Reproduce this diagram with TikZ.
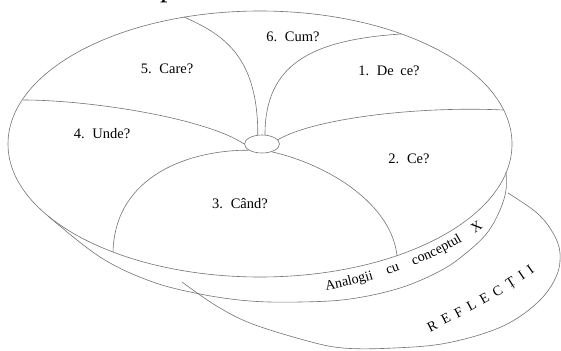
\documentclass[tikz,border=0pt]{standalone}
\usepackage{fontspec}
\setmainfont{Liberation Serif}[WordSpace=1.8]
\usetikzlibrary{shapes.geometric,decorations.text}
\tikzset{
    disk line/.style={line width=.6pt, black!55},
    sector line/.style={line width=.6pt, black!55},
    hub/.style={
        draw=black!55,
        line width=.6pt,
        ellipse,
        fill=white,
        inner sep=0pt,
        minimum width=35pt,
        minimum height=18pt
    },
    question/.style={font=\fontsize{14.5}{17}\selectfont, inner sep=0pt},
    title cut/.style={font=\fontsize{30}{30}\selectfont, inner sep=0pt, anchor=base west}
}
\newcommand{\bandfont}{\fontsize{14}{16}\selectfont}

\begin{document}
\begin{tikzpicture}[x=1pt,y=-1pt]
    \useasboundingbox (0,0) rectangle (561,350);
    \node[title cut] (title) at (160,-3) {p};
    \draw[disk line] plot[smooth,tension=.6] coordinates {(182,282) (215,305)
        (250,323) (304,340) (343,348) (394,348) (447,343) (501,327) (537,303)
        (556,277) (560,253) (553,233) (537,213) (508,193)};
    \draw[disk line] plot[smooth,tension=.6] coordinates {(48,216) (100,257)
        (150,281) (200,294) (250,301) (300,302) (350,299) (400,288) (440,271)
        (465,254) (487,233) (500,210) (506,190) (506,172)};
    \draw[disk line] (260,144) ellipse [x radius=252pt, y radius=133pt];
    \node[hub] (hub) at (262,144) {};
    \draw[sector line] (hub.115) .. controls (258,55) and (222,34) .. (184,17);
    \draw[sector line] (hub.72) .. controls (265,65) and (310,40) .. (401,34);
    \draw[sector line] (hub.15) .. controls (315,118) and (420,106) .. (503,110);
    \draw[sector line] (hub.-39) .. controls (330,165) and (392,205) .. (397,256);
    \draw[sector line] (hub.-155) .. controls (190,150) and (115,175) .. (113,252);
    \draw[sector line] (hub.180) .. controls (205,118) and (90,100) .. (23,100);
    \node[question] (q1) at (389,71) {1. De ce?};
    \node[question] (q2) at (409,159) {2. Ce?};
    \node[question] (q3) at (240,204) {3. Când?};
    \node[question] (q4) at (102,134) {4. Unde?};
    \node[question] (q5) at (167,69) {5. Care?};
    \node[question] (q6) at (293,37) {6. Cum?};
    \path[decorate, decoration={text along path,
        text={|\bandfont|Analogii cu conceptul X},
        text align={fit to path stretching spaces}}]
        (326,290) .. controls (380,281) and (440,259) .. (483,228);
    \path[decorate, decoration={text along path,
        text={|\bandfont|R E F L E C Ț I I},
        text align={fit to path stretching spaces}}]
        (430,332) .. controls (460,317) and (505,294) .. (535,272);
\end{tikzpicture}
\end{document}
